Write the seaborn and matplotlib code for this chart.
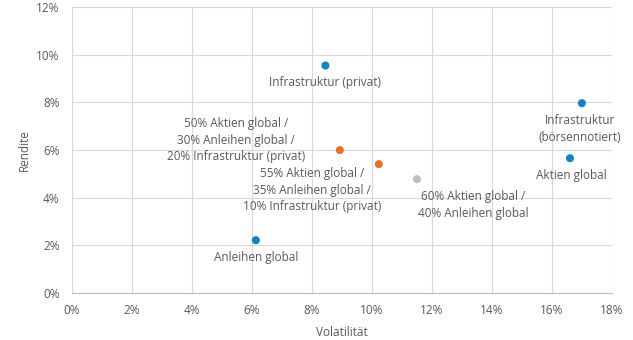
import matplotlib
matplotlib.use("Agg")
import matplotlib.pyplot as plt
import matplotlib.ticker as mticker
import seaborn as sns
import pandas as pd

# Risk/return figures per portfolio (percent)
names = [
    "Infrastruktur (privat)",
    "Infrastruktur\n(börsennotiert)",
    "Aktien global",
    "Anleihen global",
    "50% Aktien global /\n30% Anleihen global /\n20% Infrastruktur (privat)",
    "55% Aktien global /\n35% Anleihen global /\n10% Infrastruktur (privat)",
    "60% Aktien global /\n40% Anleihen global",
]
volatility = [8.45, 17.0, 16.6, 6.13, 8.93, 10.23, 11.5]
returns = [9.55, 7.97, 5.66, 2.22, 6.0, 5.41, 4.78]
groups = ["single", "single", "single", "single", "mix", "mix", "benchmark"]

# label offsets in pixels (dx, dy) relative to each point
label_offsets = [(0, -17), (-2, -26), (1, -17), (0, -17), (-104, 10), (-67, -26), (56, -26)]

df = pd.DataFrame({"name": names, "vol": volatility, "ret": returns, "group": groups})
palette = {"single": "#1682C0", "mix": "#E4712F", "benchmark": "#BDBDBD"}

sns.set_theme(style="white")
plt.rcParams["font.family"] = ["Open Sans", "DejaVu Sans"]

fig = plt.figure(figsize=(6.33, 3.40), dpi=100)
ax = fig.add_axes([0.1137, 0.138, 0.853, 0.841])

sns.scatterplot(data=df, x="vol", y="ret", hue="group", palette=palette,
                s=34, edgecolor="none", legend=False, ax=ax, zorder=3)

text_color = "#595959"
for n, x, y, (dx, dy) in zip(names, volatility, returns, label_offsets):
    ax.annotate(n, (x, y), xytext=(dx, dy), textcoords="offset pixels",
                ha="center", va="center", multialignment="center",
                fontsize=8.5, color=text_color, linespacing=1.37)

ax.set_xlim(0, 18)
ax.set_ylim(0, 12)
ax.xaxis.set_major_locator(mticker.MultipleLocator(2))
ax.yaxis.set_major_locator(mticker.MultipleLocator(2))
ax.xaxis.set_major_formatter(mticker.FuncFormatter(lambda v, p: f"{v:.0f}%"))
ax.yaxis.set_major_formatter(mticker.FuncFormatter(lambda v, p: f"{v:.0f}%"))
ax.grid(True, color="#D9D9D9", linewidth=0.8)
ax.set_axisbelow(True)
for side in ["top", "right", "left"]:
    ax.spines[side].set_visible(False)
ax.spines["bottom"].set_color("#BFBFBF")
ax.spines["bottom"].set_linewidth(0.8)
ax.tick_params(axis="x", length=0, labelsize=8.5, colors=text_color, pad=8)
ax.tick_params(axis="y", length=0, labelsize=8.5, colors=text_color, pad=9)

ax.set_xlabel("Volatilität", fontsize=8.5, color=text_color, labelpad=6)
ax.set_ylabel("Rendite", fontsize=8.5, color=text_color, labelpad=4)

fig.savefig("out.png", dpi=100, facecolor="white")
